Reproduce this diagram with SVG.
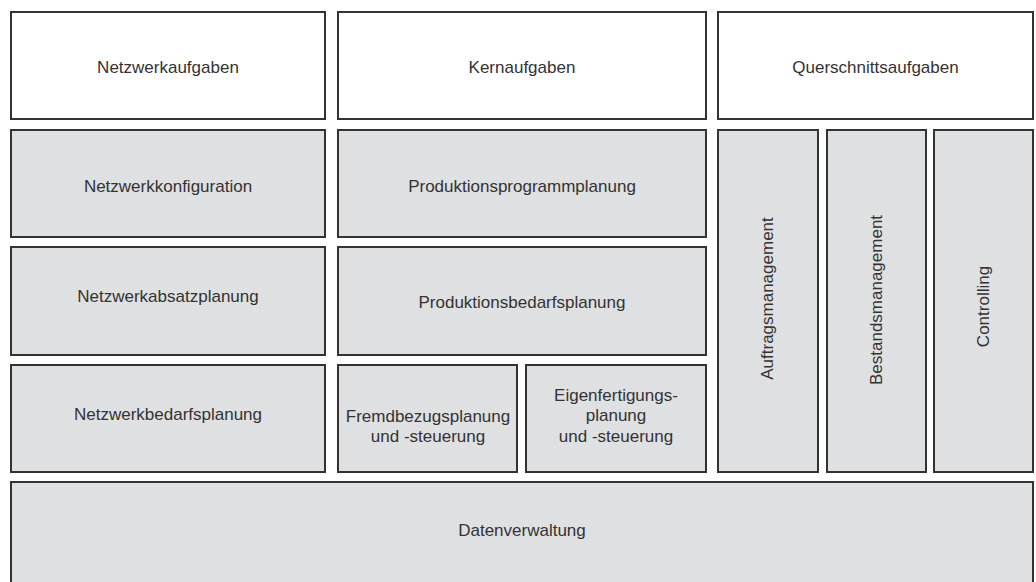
<svg xmlns="http://www.w3.org/2000/svg" width="1036" height="582" viewBox="0 0 1036 582">
<style>
rect.w{fill:#ffffff;stroke:#333333;stroke-width:2}
rect.g{fill:#dfe0e2;stroke:#333333;stroke-width:2}
text{font-family:"Liberation Sans",Arial,sans-serif;font-size:17px;fill:#333333;text-anchor:middle}
</style>
<rect x="0" y="0" width="1036" height="582" fill="#ffffff"/>
<g id="netzwerkaufgaben"><rect class="w" x="11" y="12" width="314" height="107"/><text x="168" y="72.5">Netzwerkaufgaben</text></g>
<g id="kernaufgaben"><rect class="w" x="338" y="12" width="368" height="107"/><text x="522" y="72.5">Kernaufgaben</text></g>
<g id="querschnittsaufgaben"><rect class="w" x="718" y="12" width="315" height="107"/><text x="875.5" y="72.5">Querschnittsaufgaben</text></g>
<g id="netzwerkkonfiguration"><rect class="g" x="11" y="130" width="314" height="107"/><text x="168" y="191.5">Netzwerkkonfiguration</text></g>
<g id="produktionsprogrammplanung"><rect class="g" x="338" y="130" width="368" height="107"/><text x="522" y="191.5">Produktionsprogrammplanung</text></g>
<g id="netzwerkabsatzplanung"><rect class="g" x="11" y="247" width="314" height="108"/><text x="168" y="302">Netzwerkabsatzplanung</text></g>
<g id="produktionsbedarfsplanung"><rect class="g" x="338" y="247" width="368" height="108"/><text x="522" y="307.5">Produktionsbedarfsplanung</text></g>
<g id="netzwerkbedarfsplanung"><rect class="g" x="11" y="365" width="314" height="107"/><text x="168" y="419.5">Netzwerkbedarfsplanung</text></g>
<g id="fremdbezug"><rect class="g" x="338" y="365" width="179" height="107"/><text x="428" y="421.5">Fremdbezugsplanung</text><text x="428" y="441.5">und -steuerung</text></g>
<g id="eigenfertigung"><rect class="g" x="526" y="365" width="180" height="107"/><text x="616" y="400.5">Eigenfertigungs-</text><text x="616" y="421">planung</text><text x="616" y="441.5">und -steuerung</text></g>
<g id="auftragsmanagement"><rect class="g" x="718" y="130" width="100" height="342"/><text transform="translate(773 298.5) rotate(-90)">Auftragsmanagement</text></g>
<g id="bestandsmanagement"><rect class="g" x="827" y="130" width="99" height="342"/><text transform="translate(882 300) rotate(-90)">Bestandsmanagement</text></g>
<g id="controlling"><rect class="g" x="934" y="130" width="99" height="342"/><text transform="translate(989 306.5) rotate(-90)">Controlling</text></g>
<g id="datenverwaltung"><rect class="g" x="11" y="482" width="1022" height="110"/><text x="522" y="535.5">Datenverwaltung</text></g>
<g id="connectors"></g>
</svg>
